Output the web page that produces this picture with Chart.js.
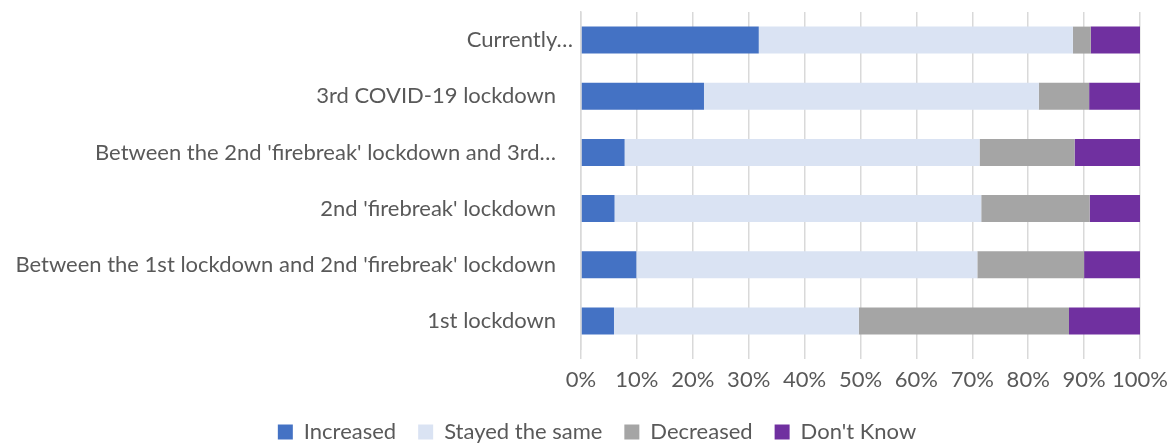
<!DOCTYPE html>
<html>
<head>
<meta charset="utf-8">
<script src="https://cdn.jsdelivr.net/npm/chart.js@4/dist/chart.umd.min.js"></script>
<style>
html,body{margin:0;padding:0;background:#fff;}
#wrap{width:1173px;height:446px;position:relative;}
</style>
</head>
<body>
<div id="wrap"><canvas id="c" width="1173" height="446"></canvas></div>
<script>
const categories = [
  "Currently\u2026",
  "3rd COVID-19 lockdown   ",
  "Between the 2nd 'firebreak' lockdown and 3rd\u2026   ",
  "2nd 'firebreak' lockdown   ",
  "Between the 1st lockdown and 2nd 'firebreak' lockdown   ",
  "1st lockdown   "
];
const increased = [31.8, 22.0, 7.8, 6.0, 9.9, 5.9];
const stayedSame = [56.2, 59.9, 63.5, 65.6, 61.0, 43.8];
const decreased = [3.2, 9.0, 17.0, 19.4, 19.1, 37.6];
const dontKnow = [8.8, 9.1, 11.7, 9.0, 10.0, 12.7];
const seriesNames = ["Increased", "Stayed the same", "Decreased", "Don't Know"];
const xTicks = [0,10,20,30,40,50,60,70,80,90,100];

const colors = ["#4472C4", "#DAE3F3", "#A5A5A5", "#7030A0"];
const font = "Lato, 'Open Sans', sans-serif";
const txt = "#595959";

const shiftLegend = {
  id: 'shiftLegend',
  afterLayout(chart) {
    const l = chart.legend;
    if (l) { l.left += 27; l.right += 27; }
  }
};

new Chart(document.getElementById('c'), {
  type: 'bar',
  data: {
    labels: categories,
    datasets: [increased, stayedSame, decreased, dontKnow].map((d, i) => ({
      label: seriesNames[i],
      data: d,
      backgroundColor: colors[i],
      borderWidth: 0,
      categoryPercentage: 1,
      barPercentage: 0.48
    }))
  },
  plugins: [shiftLegend],
  options: {
    indexAxis: 'y',
    responsive: false,
    animation: false,
    layout: { padding: { left: 0, right: 33, top: 12, bottom: -7 } },
    plugins: {
      tooltip: { enabled: false },
      legend: {
        position: 'bottom',
        labels: {
          font: { family: font, size: 22 },
          color: txt,
          boxWidth: 15,
          boxHeight: 15,
          padding: 22
        }
      }
    },
    scales: {
      x: {
        stacked: true,
        min: 0, max: 100,
        afterBuildTicks: s => { s.ticks = xTicks.map(v => ({ value: v })); },
        ticks: {
          callback: v => v + '%',
          font: { family: font, size: 22 },
          color: txt,
          padding: 8,
          maxRotation: 0,
          autoSkip: false
        },
        grid: { color: '#D9D9D9', lineWidth: 1.5, tickLength: 10 },
        border: { display: false },
        afterFit: s => { s.height = 50; s.paddingLeft = 0; s.paddingRight = 0; }
      },
      y: {
        stacked: true,
        ticks: {
          font: { family: font, size: 22 },
          color: txt,
          padding: 0,
          autoSkip: false
        },
        grid: { display: false },
        border: { display: true, color: '#D9D9D9', width: 1.5 },
        afterFit: s => { s.width = 581; s.paddingTop = 0; s.paddingBottom = 0; }
      }
    }
  }
});
</script>
</body>
</html>
